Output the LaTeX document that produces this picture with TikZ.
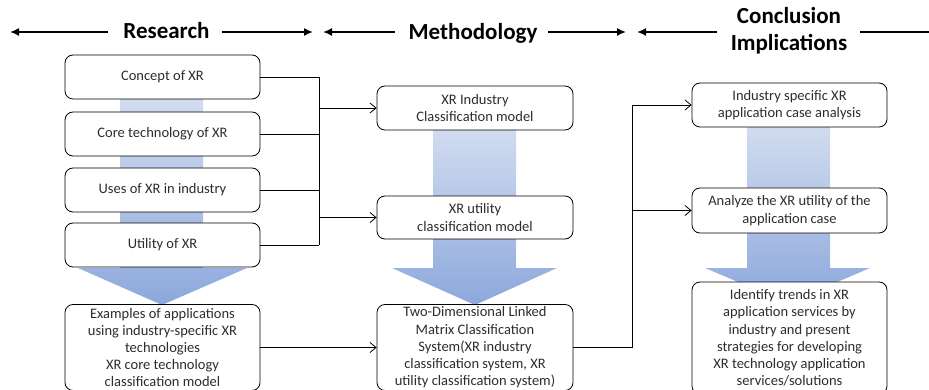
\documentclass[tikz,border=0pt]{standalone}
\usepackage{fontspec}
\setmainfont{Carlito}
\usetikzlibrary{arrows.meta}
\definecolor{bandtop}{RGB}{218,226,242}
\definecolor{bandbot}{RGB}{140,168,220}
\definecolor{boxtext}{RGB}{45,45,45}
\tikzset{
  box/.style={draw=black, line width=0.8pt, rounded corners=8pt, fill=white,
    minimum width=195pt, align=center, inner sep=0pt, text=boxtext,
    font=\fontsize{14.5}{17.5}\selectfont},
  tallbox/.style={box, font=\fontsize{14.5}{17.2}\selectfont},
  conn/.style={line width=0.8pt, -{Straight Barb[length=6pt,width=10pt]}},
  link/.style={line width=0.8pt},
  hdr/.style={font=\fontsize{23}{27}\selectfont\bfseries, text=black, align=center},
  hdrarrow/.style={line width=1.6pt, -{Latex[length=9pt,width=8pt]}},
  hdrline/.style={line width=1.6pt},
  band/.style={top color=bandtop, bottom color=bandbot},
}
\begin{document}
\begin{tikzpicture}[x=1pt,y=-1pt]
\path[use as bounding box, clip] (0,0) rectangle (929,390);

% headers
\node[hdr] (hR) at (166.5,31) {Research};
\node[hdr] (hM) at (473,33) {Methodology};
\node[hdr] (hC) at (789,31) {Conclusion\\Implications};
\coordinate (a1s) at (108,32);  \coordinate (a1e) at (10,32);
\coordinate (a2s) at (222,32);  \coordinate (a2e) at (313,32);
\coordinate (a3s) at (395,32);  \coordinate (a3e) at (323,32);
\coordinate (a4s) at (548,32);  \coordinate (a4e) at (626,32);
\coordinate (a5s) at (717,32);  \coordinate (a5e) at (637,32);
\coordinate (a6s) at (860,32);  \coordinate (a6e) at (935,32);
\draw[hdrarrow] (a1s) -- (a1e);
\draw[hdrarrow] (a2s) -- (a2e);
\draw[hdrarrow] (a3s) -- (a3e);
\draw[hdrarrow] (a4s) -- (a4e);
\draw[hdrarrow] (a5s) -- (a5e);
\draw[hdrline] (a6s) -- (a6e);

% shaded flow arrows behind each column
\shade[band] (120,77) -- (203,77) -- (203,268) -- (247,268) -- (162,305)
  -- (78,268) -- (120,268) -- cycle;
\shade[band] (433,108) -- (516,108) -- (516,268) -- (557,268) -- (475,305)
  -- (392,268) -- (433,268) -- cycle;
\shade[band] (747,105) -- (830,105) -- (830,268) -- (870,268) -- (788,303)
  -- (705,268) -- (747,268) -- cycle;

% research column
\node[box, minimum height=44pt] (c1) at (162.5,77) {Concept of XR};
\node[box, minimum height=44pt] (c2) at (162.5,134) {Core technology of XR};
\node[box, minimum height=44pt] (c3) at (162.5,190) {Uses of XR in industry};
\node[box, minimum height=44pt] (c4) at (162.5,245) {Utility of XR};
\node[tallbox, minimum height=86pt] (bl) at (162.5,347.5)
  {Examples of applications\\using industry-specific XR\\technologies\\XR core technology\\classification model};

% methodology column
\node[box, minimum width=196pt, minimum height=44pt] (m1) at (475,108)
  {XR Industry\\Classification model};
\node[box, minimum width=196pt, minimum height=43pt] (m2) at (475,217.5)
  {XR utility\\classification model};
\node[tallbox, minimum width=196pt, minimum height=86pt] (bm) at (475,347.5)
  {Two-Dimensional Linked\\Matrix Classification\\System(XR industry\\classification system, XR\\utility classification system)};

% conclusion column
\node[box, minimum height=44pt] (r1) at (789.5,105)
  {Industry specific XR\\application case analysis};
\node[box, minimum height=45pt] (r2) at (789.5,210.5)
  {Analyze the XR utility of the\\application case};
\node[tallbox, minimum height=112pt] (br) at (789.5,338)
  {Identify trends in XR\\application services by\\industry and present\\strategies for developing\\XR technology application\\services/solutions};

% connectors
\coordinate (jl) at (319,0);
\coordinate (jr) at (632,0);
\draw[link] (c1.east) -- (c1.east -| jl);
\draw[link] (c2.east) -- (c2.east -| jl);
\draw[link] (c3.east) -- (c3.east -| jl);
\draw[link] (c4.east) -- (c4.east -| jl);
\draw[link] (c1.east -| jl) -- (c4.east -| jl);
\draw[conn] (jl |- m1.west) -- (m1.west);
\draw[conn] (jl |- m2.west) -- (m2.west);
\draw[conn] (bl.east) -- (bm.west);
\draw[link] (bm.east) -- (bm.east -| jr) -- (jr |- r1.west);
\draw[conn] (jr |- r1.west) -- (r1.west);
\draw[conn] (jr |- r2.west) -- (r2.west);
\end{tikzpicture}
\end{document}
